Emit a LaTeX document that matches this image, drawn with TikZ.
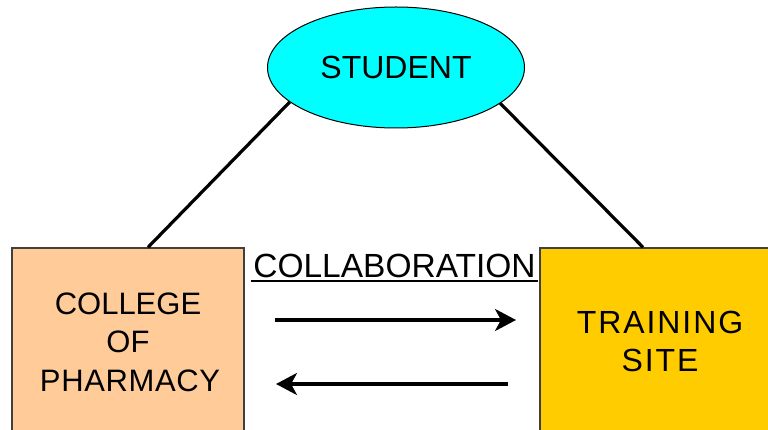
\documentclass[tikz,border=0pt]{standalone}
\usepackage{fontspec}
\setmainfont{Liberation Sans}
\usetikzlibrary{shapes.geometric,arrows.meta}
\definecolor{studentfill}{HTML}{00FFFF}
\definecolor{collegefill}{HTML}{FFCC99}
\definecolor{sitefill}{HTML}{FFCC00}
\definecolor{boxedge}{HTML}{404040}
\tikzset{
  party/.style={draw=boxedge, line width=1.4pt, rectangle, inner sep=0pt,
    align=center, font=\fontsize{31}{38.5}\selectfont},
  link/.style={line width=3.2pt, black},
  flow/.style={line width=3.4pt, black,
    -{Stealth[length=21pt,width=22pt,inset=6pt]}},
}
\begin{document}
\begin{tikzpicture}[x=1pt,y=-1pt]
  \useasboundingbox (0,0) rectangle (768,430);
  \clip (0,0) rectangle (768,430);

  % the student at the apex
  \node[ellipse, draw=black, line width=1pt, fill=studentfill, inner sep=0pt,
        minimum width=257pt, minimum height=121pt,
        font=\fontsize{32}{38}\selectfont] (student) at (396,67.5) {STUDENT};

  % the two partner institutions, running off the lower edge
  \node[party, fill=collegefill, minimum width=232pt, minimum height=188pt]
        (college) at (128,342)
        {COLLEGE\\OF\\\hspace*{4pt}{\addfontfeatures{LetterSpace=2}PHARMACY}};
  \node[party, fill=sitefill, minimum width=240pt, minimum height=187pt,
        font=\fontsize{32}{38}\selectfont\addfontfeatures{LetterSpace=6}]
        (site) at (660,341.5) {TRAINING\\SITE};

  % links from the student to each institution
  \draw[link] (student.198.9) -- ([xshift=20pt]college.north);
  \draw[link] (student.341.1) -- ([xshift=-17pt]site.north);

  % collaboration heading with its underline
  \node[anchor=base, inner sep=0pt, font=\fontsize{33.5}{38}\selectfont]
        (collab) at (394.5,277) {COLLABORATION};
  \draw[line width=2pt] ([xshift=-2pt,yshift=-4pt]collab.base west)
    -- ([xshift=2pt,yshift=-4pt]collab.base east);

  % two-way exchange between the institutions
  \coordinate (outA) at (275,320);
  \coordinate (inA)  at (516,320);
  \coordinate (outB) at (508,384);
  \coordinate (inB)  at (276,384);
  \draw[flow] (outA) -- (inA);
  \draw[flow] (outB) -- (inB);
\end{tikzpicture}
\end{document}
